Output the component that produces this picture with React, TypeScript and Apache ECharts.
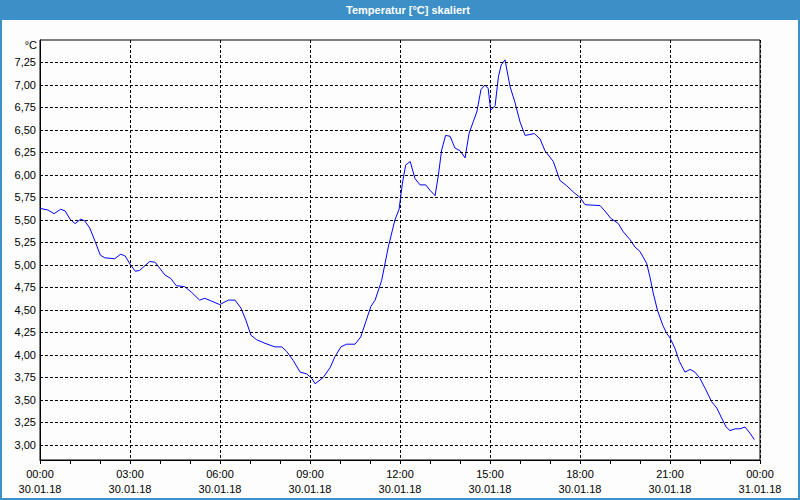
import { useEffect, useRef } from 'react';
import * as echarts from 'echarts';

const titleText = 'Temperatur [°C] skaliert';
const unitText = '°C';

const hours = [
  0.0, 0.27, 0.47, 0.69, 0.84, 1.0, 1.17, 1.36, 1.49, 1.66, 1.84, 2.01, 2.16, 2.49, 2.69, 2.84,
  3.0, 3.18, 3.32, 3.66, 3.84, 4.16, 4.36, 4.54, 4.82, 5.04, 5.32, 5.49, 5.71, 5.99,
  6.28, 6.5, 6.7, 6.86, 7.03, 7.22, 7.5, 7.83, 8.06, 8.22, 8.44, 8.67, 8.89,
  9.06, 9.17, 9.44, 9.67, 9.83, 10.03, 10.22, 10.5, 10.69, 10.86, 11.03, 11.17, 11.39, 11.61, 11.83, 11.97,
  12.08, 12.19, 12.34, 12.5, 12.67, 12.86, 13.0, 13.17, 13.28, 13.39, 13.52, 13.67, 13.83, 14.0, 14.17,
  14.3, 14.44, 14.56, 14.7, 14.83, 14.94, 15.02, 15.17, 15.28, 15.37, 15.5, 15.67, 15.83, 16.0, 16.17,
  16.33, 16.48, 16.67, 16.83, 17.11, 17.33, 17.56, 17.78, 18.0, 18.17, 18.67, 18.83, 19.02, 19.28,
  19.44, 19.67, 19.83, 20.0, 20.22, 20.33, 20.44, 20.58, 20.76, 20.89, 21.0, 21.17, 21.31, 21.5,
  21.67, 21.83, 22.0, 22.17, 22.39, 22.56, 22.72, 22.87, 23.0, 23.17, 23.33, 23.5, 23.67, 23.81,
];

const temps = [
  5.63, 5.61, 5.57, 5.62, 5.6, 5.51, 5.46, 5.51, 5.49, 5.41, 5.26, 5.11, 5.08, 5.07, 5.12, 5.1,
  5.01, 4.93, 4.94, 5.04, 5.03, 4.89, 4.85, 4.77, 4.76, 4.7, 4.61, 4.63, 4.6, 4.56,
  4.61, 4.61, 4.52, 4.39, 4.22, 4.17, 4.13, 4.09, 4.09, 4.04, 3.94, 3.81, 3.79,
  3.74, 3.68, 3.75, 3.86, 3.98, 4.09, 4.12, 4.12, 4.2, 4.37, 4.54, 4.61, 4.83, 5.2, 5.5, 5.62,
  5.91, 6.11, 6.15, 5.96, 5.89, 5.89, 5.83, 5.77, 6.0, 6.28, 6.44, 6.43, 6.3, 6.27, 6.19,
  6.46, 6.59, 6.7, 6.95, 7.0, 6.96, 6.72, 6.77, 7.09, 7.22, 7.28, 6.98, 6.81, 6.59, 6.44,
  6.45, 6.46, 6.4, 6.27, 6.15, 5.94, 5.88, 5.81, 5.75, 5.67, 5.66, 5.6, 5.52, 5.46,
  5.37, 5.28, 5.2, 5.15, 5.02, 4.87, 4.69, 4.5, 4.33, 4.24, 4.19, 4.07, 3.93, 3.81,
  3.84, 3.81, 3.74, 3.63, 3.48, 3.41, 3.3, 3.2, 3.16, 3.18, 3.18, 3.2, 3.13, 3.06,
];

const yTicks = [3.0, 3.25, 3.5, 3.75, 4.0, 4.25, 4.5, 4.75, 5.0, 5.25, 5.5, 5.75, 6.0, 6.25, 6.5, 6.75, 7.0, 7.25];
const yMin = 2.8333;
const yMax = 7.5;

const xTicks = [0, 3, 6, 9, 12, 15, 18, 21, 24];
const timeLabels = ['00:00', '03:00', '06:00', '09:00', '12:00', '15:00', '18:00', '21:00', '00:00'];
const dateLabels = ['30.01.18', '30.01.18', '30.01.18', '30.01.18', '30.01.18', '30.01.18', '30.01.18', '30.01.18', '31.01.18'];

const BLUE = '#3c90c7';
const FONT = '"Liberation Sans", Arial, sans-serif';

export default function App() {
  const ref = useRef<HTMLDivElement>(null);

  useEffect(() => {
    if (!ref.current) return;
    const chart = echarts.init(ref.current, null, { renderer: 'svg' });
    const fmt = (v: number) => v.toFixed(2).replace('.', ',');
    chart.setOption({
      animation: false,
      backgroundColor: '#fcfdfc',
      textStyle: { fontFamily: FONT },
      graphic: [
        { type: 'rect', silent: true, shape: { x: 0, y: 0, width: 800, height: 20 }, style: { fill: BLUE } },
        { type: 'rect', silent: true, shape: { x: 1, y: 1, width: 798, height: 498 }, style: { fill: 'none', stroke: BLUE, lineWidth: 2 } },
        {
          type: 'text', silent: true, x: 408, y: 10,
          style: { text: titleText, fill: '#ffffff', font: 'bold 11px ' + FONT, align: 'center', verticalAlign: 'middle' },
        },
        {
          type: 'text', silent: true, x: 37, y: 45,
          style: { text: unitText, fill: '#000000', font: '11px ' + FONT, align: 'right', verticalAlign: 'middle' },
        },
      ],
      grid: { left: 40, right: 40, top: 40, bottom: 40, show: true, borderColor: '#000', borderWidth: 1 },
      xAxis: {
        type: 'value', min: 0, max: 24, interval: 3,
        axisLine: { lineStyle: { color: '#000', width: 1 } },
        axisTick: { length: 4, lineStyle: { color: '#000' } },
        minorTick: { show: true, splitNumber: 3, length: 4, lineStyle: { color: '#000' } },
        splitLine: { show: true, lineStyle: { color: '#000', type: [3, 2], width: 1 } },
        axisLabel: {
          margin: 6, lineHeight: 15, fontSize: 11, color: '#000', fontFamily: FONT,
          formatter: (v: number) => {
            const i = xTicks.indexOf(v);
            return i >= 0 ? `${timeLabels[i]}\n${dateLabels[i]}` : '';
          },
        },
      },
      yAxis: {
        type: 'value', min: yMin, max: yMax,
        axisLine: { show: true, lineStyle: { color: '#000', width: 1 } },
        axisTick: { show: false },
        splitLine: { show: false },
        axisLabel: { customValues: yTicks, formatter: fmt, margin: 4, fontSize: 11, color: '#000', fontFamily: FONT },
      },
      series: [
        {
          type: 'line', data: [], silent: true,
          markLine: {
            silent: true, symbol: 'none', label: { show: false }, animation: false,
            lineStyle: { color: '#000', type: [3, 2], width: 1 },
            emphasis: { disabled: true },
            data: yTicks.map((v) => ({ yAxis: v })),
          },
        },
        {
          type: 'line',
          data: hours.map((h, i) => [h, temps[i]]),
          showSymbol: false, symbol: 'none',
          lineStyle: { color: '#0000ff', width: 1 },
        },
      ],
    });
    return () => chart.dispose();
  }, []);

  return <div ref={ref} style={{ position: 'absolute', left: 0, top: 0, width: 800, height: 500 }} />;
}
